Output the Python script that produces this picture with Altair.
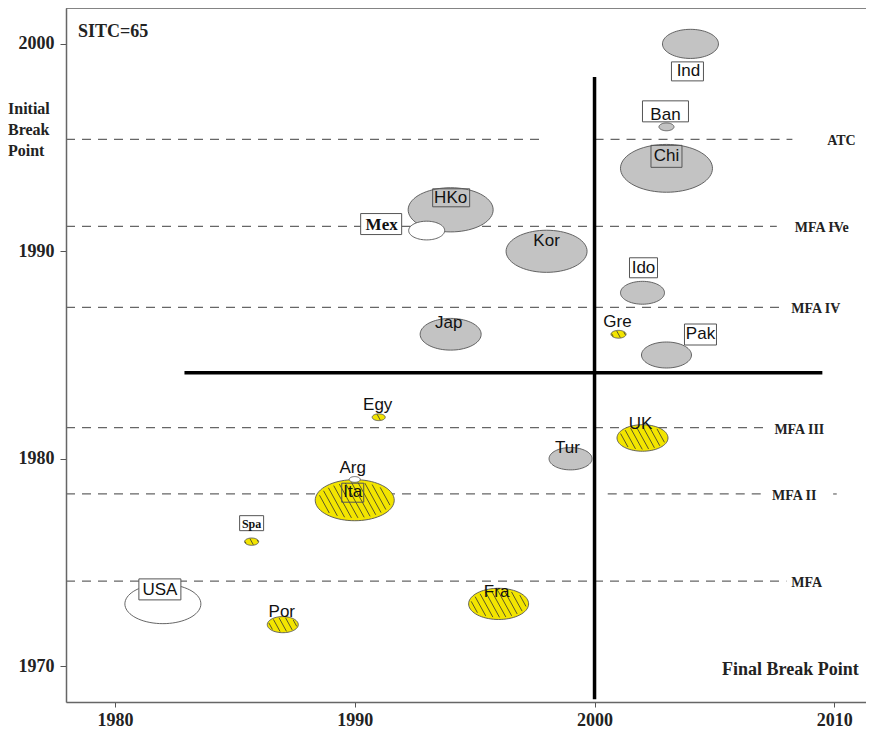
import math
import altair as alt
import pandas as pd

# ---------------- data ----------------
countries = ["Ind", "Ban", "Chi", "HKo", "Mex", "Kor", "Ido", "Jap", "Gre", "Pak",
             "Egy", "UK", "Tur", "Ita", "Arg", "Spa", "USA", "Por", "Fra"]
final_break = [2004, 2003, 2003, 1994, 1993, 1998, 2002, 1994, 2001, 2003,
               1991, 2002, 1999, 1990, 1990, 1985.7, 1982, 1987, 1996]
initial_break = [2000, 1996, 1994, 1992, 1991, 1990, 1988, 1986, 1986, 1985,
                 1982, 1981, 1980, 1978, 1979, 1976, 1973, 1972, 1973]
weight = [56, 15, 92, 85, 36, 81, 44, 61, 15, 50,
          13, 51, 43, 79, 11, 14, 76, 31, 60]
group = ["Gray", "Gray", "Gray", "Gray", "White", "Gray", "Gray", "Gray", "Yellow", "Gray",
         "Yellow", "Yellow", "Gray", "Yellow", "White", "Yellow", "White", "Yellow", "Yellow"]

agreements = ["MFA", "MFA II", "MFA III", "MFA IV", "MFA IVe", "ATC"]
agreement_year = [1974.1, 1978.3, 1981.5, 1987.3, 1991.2, 1995.4]

x_ticks = [1980, 1990, 2000, 2010]
y_ticks = [1970, 1980, 1990, 2000]

final_threshold = [2000]
initial_threshold = [1984.15]

# ---------------- layout / style ----------------
W, H = 800, 694
X_DOM = [1977.96, 2011.32]
Y_DOM = [1968.27, 2001.73]

label_x = [2008.2, 2007.4, 2007.5, 2008.2, 2008.35, 2009.7]
# dashed segments drawn for each agreement line: (agreement index, from, to)
dash_segments = [
    (0, X_DOM[0], 2008.0),
    (1, X_DOM[0], 1999.6), (1, 2000.55, 2007.0), (1, 2009.95, 2010.1),
    (2, X_DOM[0], 2007.3),
    (3, X_DOM[0], 2007.85), (3, 2009.95, 2010.15),
    (4, X_DOM[0], 2007.6), (4, 2009.9, 2010.2),
    (5, X_DOM[0], 1997.7), (5, 2000.0, 2008.25),
]
vline_span = [1968.4, 1998.4]
hline_span = [1982.9, 2009.5]

SANS = "Liberation Sans"
SERIF = "Liberation Serif"

# label style: (boxed, serif, fontsize, text_dx, text_dy, box_dx, box_dy, box_w, box_h, box_fill)
label_style = {
    "Ind": (True, False, 17, -2, 27, -3, 27.5, 32, 19, "white"),
    "Ban": (True, False, 17, -1, -12, -1, -15.5, 46, 21, "white"),
    "Chi": (True, False, 17, 0, -12, 0, -12, 31, 22, "transparent"),
    "HKo": (True, False, 17, 0, -12, 0.5, -12, 37, 18, "transparent"),
    "Mex": (True, True, 17, -45, -6, -45.5, -6.5, 41, 21, "white"),
    "Kor": (False, False, 17, 0, -10, 0, 0, 0, 0, ""),
    "Ido": (True, False, 17, 1, -25, 1, -25, 28, 20, "white"),
    "Jap": (False, False, 17, -2, -11, 0, 0, 0, 0, ""),
    "Gre": (False, False, 17, -1, -12, 0, 0, 0, 0, ""),
    "Pak": (True, False, 17, 34, -21, 34, -20.5, 32, 21, "white"),
    "Egy": (False, False, 17, -1, -12, 0, 0, 0, 0, ""),
    "UK": (False, False, 17, -2, -14, 0, 0, 0, 0, ""),
    "Tur": (False, False, 17, -3, -11, 0, 0, 0, 0, ""),
    "Ita": (True, False, 17, -2, -8, -2, -7.5, 22, 19, "transparent"),
    "Arg": (False, False, 17, -2, -11, 0, 0, 0, 0, ""),
    "Spa": (True, True, 12, 0, -18, 0, -18.5, 24, 15, "white"),
    "USA": (True, False, 17, -3, -14, -3, -14.5, 42, 21, "white"),
    "Por": (False, False, 17, -1, -13, 0, 0, 0, 0, ""),
    "Fra": (False, False, 17, -2, -12, 0, 0, 0, 0, ""),
}

B = 0.52          # ellipse aspect (height / width)
SLOPE = 0.55      # hatch dx/dy
SPACING = 6.5     # hatch spacing in px

ellipse_path = "M" + " L".join(
    f"{math.cos(2 * math.pi * k / 72):.4f},{B * math.sin(2 * math.pi * k / 72):.4f}"
    for k in range(72)) + " Z"


def hatch_path(w):
    du = 2 * SPACING / w
    r = 0.93
    a = SLOPE ** 2 + 1 / (B * r) ** 2
    segs = []
    k = 0
    cs = [0.0]
    while True:
        k += 1
        c = k * du
        if c >= r * math.sqrt(1 + SLOPE ** 2 * B ** 2) * 0.98:
            break
        cs += [c, -c]
    for c in sorted(cs):
        bb = 2 * c * SLOPE
        cc = c * c - r * r
        disc = bb * bb - 4 * a * cc
        if disc <= 0:
            continue
        y1 = (-bb - math.sqrt(disc)) / (2 * a)
        y2 = (-bb + math.sqrt(disc)) / (2 * a)
        segs.append(f"M{c + SLOPE * y1:.4f},{y1:.4f} L{c + SLOPE * y2:.4f},{y2:.4f}")
    return " ".join(segs) if segs else "M0,0"


df = pd.DataFrame({
    "country": countries,
    "final": final_break,
    "initial": initial_break,
    "weight": weight,
    "group": group,
})
df["hatch"] = [hatch_path(w) for w in weight]

box_rows = []
for c, fx, iy in zip(countries, final_break, initial_break):
    st = label_style[c]
    if st[0]:
        bx, by, bw, bh = st[5], st[6], st[7], st[8]
        p = f"M{bx - bw / 2},{by - bh / 2} H{bx + bw / 2} V{by + bh / 2} H{bx - bw / 2} Z"
        box_rows.append({"country": c, "final": fx, "initial": iy, "boxpath": p, "boxfill": st[9]})
df_box = pd.DataFrame(box_rows)

df_agree = pd.DataFrame({"name": agreements, "year": agreement_year, "lx": label_x})
df_dash = pd.DataFrame({
    "year": [agreement_year[i] for i, _, _ in dash_segments],
    "start": [s for _, s, _ in dash_segments],
    "end": [e for _, _, e in dash_segments],
})

xs = alt.Scale(domain=X_DOM, nice=False, zero=False)
ys = alt.Scale(domain=Y_DOM, nice=False, zero=False)
size_scale = alt.Scale(type="pow", exponent=2, domain=[0, 100], range=[0, 10000])

x_axis = alt.Axis(values=x_ticks, format="d", title=None, grid=False,
                  labelFont=SERIF, labelFontWeight="bold", labelFontSize=18, labelColor="#222",
                  tickColor="#555", tickSize=5, domainColor="#666", domainWidth=1.5, labelPadding=4)
y_axis = alt.Axis(values=y_ticks, format="d", title=None, grid=False,
                  labelFont=SERIF, labelFontWeight="bold", labelFontSize=18, labelColor="#222",
                  tickColor="#555", tickSize=6, domainColor="#666", domainWidth=1.5, labelPadding=6)

base = alt.Chart(df)

# dashed agreement lines
agree_rules = alt.Chart(df_dash).mark_rule(strokeDash=[9, 7], color="#666", strokeWidth=1.2).encode(
    x=alt.X("start:Q", scale=xs, axis=x_axis),
    x2=alt.X2("end:Q"),
    y=alt.Y("year:Q", scale=ys, axis=y_axis),
)
agree_text = alt.Chart(df_agree).mark_text(
    align="left", baseline="middle", font=SERIF, fontWeight="bold", fontSize=14, color="#222", dy=2
).encode(
    x=alt.X("lx:Q", scale=xs),
    y=alt.Y("year:Q", scale=ys),
    text="name:N",
)

# thick threshold lines
df_v = pd.DataFrame({"x": final_threshold, "y1": [vline_span[0]], "y2": [vline_span[1]]})
df_h = pd.DataFrame({"y": initial_threshold, "x1": [hline_span[0]], "x2": [hline_span[1]]})
vline = alt.Chart(df_v).mark_rule(color="black", strokeWidth=3.5).encode(
    x=alt.X("x:Q", scale=xs), y=alt.Y("y1:Q", scale=ys), y2="y2:Q")
hline = alt.Chart(df_h).mark_rule(color="black", strokeWidth=3.5).encode(
    y=alt.Y("y:Q", scale=ys), x=alt.X("x1:Q", scale=xs), x2="x2:Q")

# ellipses
ellipses = base.mark_point(filled=True, opacity=1, shape=ellipse_path, stroke="#555",
                           strokeWidth=0.9).encode(
    x=alt.X("final:Q", scale=xs),
    y=alt.Y("initial:Q", scale=ys),
    size=alt.Size("weight:Q", scale=size_scale, legend=None),
    fill=alt.Fill("group:N", scale=alt.Scale(domain=["Gray", "White", "Yellow"],
                                             range=["#c3c3c3", "#ffffff", "#f3e500"]), legend=None),
)
hatch = base.transform_filter(alt.datum.group == "Yellow").mark_point(
    filled=False, opacity=1, stroke="#333", strokeWidth=0.8, fill="transparent").encode(
    x=alt.X("final:Q", scale=xs),
    y=alt.Y("initial:Q", scale=ys),
    size=alt.Size("weight:Q", scale=size_scale, legend=None),
    shape=alt.Shape("hatch:N", scale=None),
)

boxes = alt.Chart(df_box).mark_point(filled=True, opacity=1, stroke="#555", strokeWidth=1).encode(
    x=alt.X("final:Q", scale=xs),
    y=alt.Y("initial:Q", scale=ys),
    size=alt.value(4),
    shape=alt.Shape("boxpath:N", scale=None),
    fill=alt.Fill("boxfill:N", scale=None),
)

labels = []
for c in countries:
    st = label_style[c]
    labels.append(
        base.transform_filter(alt.datum.country == c).mark_text(
            align="center", baseline="middle",
            font=SERIF if st[1] else SANS, fontWeight="bold" if st[1] else "normal",
            fontSize=st[2], color="#111", dx=st[3], dy=st[4]
        ).encode(
            x=alt.X("final:Q", scale=xs),
            y=alt.Y("initial:Q", scale=ys),
            text="country:N",
        )
    )

top_border = alt.Chart(df_v).mark_rule(color="#666", strokeWidth=1.5).encode(
    y=alt.value(0), x=alt.value(0), x2=alt.value(W))

sitc = alt.Chart(df_v).mark_text(align="left", baseline="middle", font=SERIF, fontWeight="bold",
                                 fontSize=18, color="#222").encode(
    x=alt.value(12), y=alt.value(24), text=alt.value("SITC=65"))
final_title = alt.Chart(df_v).mark_text(align="left", baseline="middle", font=SERIF, fontWeight="bold",
                                        fontSize=18, color="#222").encode(
    x=alt.value(656), y=alt.value(662), text=alt.value("Final Break Point"))
init_title = alt.Chart(df_v).mark_text(align="left", baseline="top", font=SERIF, fontWeight="bold",
                                       fontSize=16, color="#222", lineHeight=21).encode(
    x=alt.value(-58), y=alt.value(93), text=alt.value(["Initial", "Break", "Point"]))

chart = alt.layer(
    agree_rules, agree_text, hline, vline, ellipses, hatch, boxes, *labels,
    top_border, sitc, final_title, init_title
).properties(
    width=W, height=H,
    autosize=alt.AutoSizeParams(type="none"),
    padding={"left": 58, "top": 0, "right": 0, "bottom": 29},
).configure_view(stroke=None).configure(background="white")

chart.save("out.html", embed_options={"renderer": "svg", "actions": False})
